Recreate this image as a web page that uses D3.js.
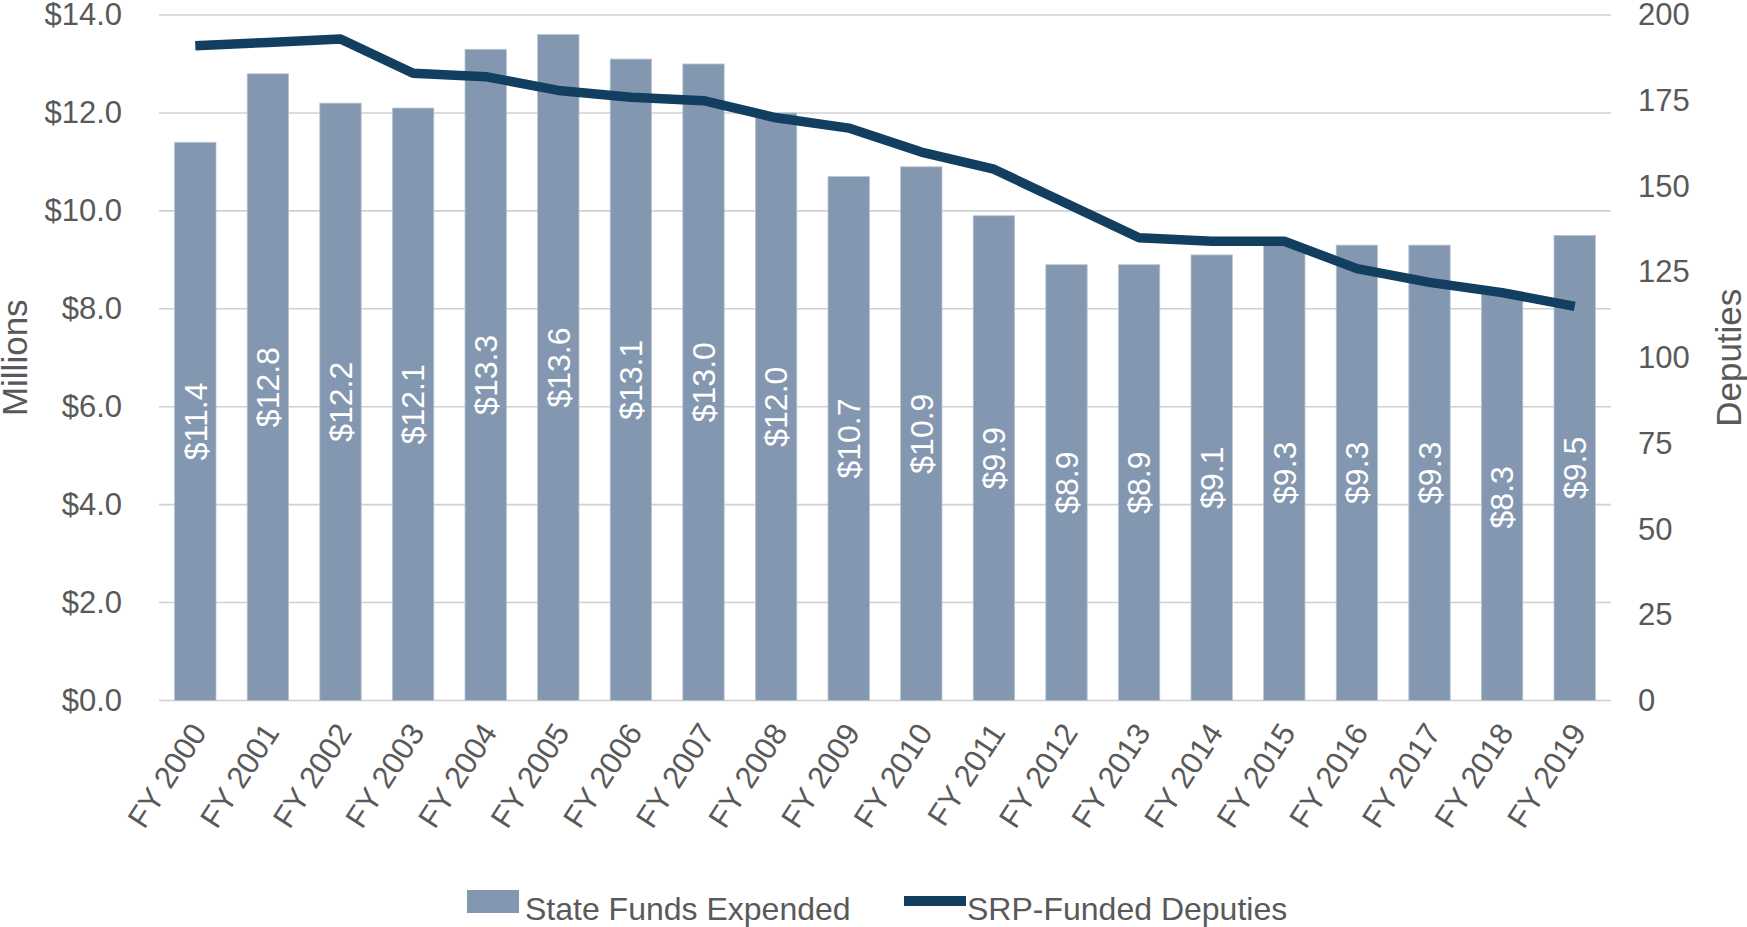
<!DOCTYPE html>
<html>
<head>
<meta charset="utf-8">
<script src="https://cdn.jsdelivr.net/npm/d3@7"></script>
<style>
  html, body { margin: 0; padding: 0; background: #fff; }
  svg { display: block; }
  text { font-family: "Liberation Sans", Arial, sans-serif; }
</style>
</head>
<body>
<svg id="chart" width="1747" height="927"></svg>
<script>
const categories = ["FY 2000","FY 2001","FY 2002","FY 2003","FY 2004","FY 2005","FY 2006","FY 2007","FY 2008","FY 2009",
                    "FY 2010","FY 2011","FY 2012","FY 2013","FY 2014","FY 2015","FY 2016","FY 2017","FY 2018","FY 2019"];
const stateFunds = [11.4, 12.8, 12.2, 12.1, 13.3, 13.6, 13.1, 13.0, 12.0, 10.7, 10.9, 9.9, 8.9, 8.9, 9.1, 9.3, 9.3, 9.3, 8.3, 9.5];
const deputies = [191, 192, 193, 183, 182, 178, 176, 175, 170, 167, 160, 155, 145, 135, 134, 134, 126, 122, 119, 115];
const leftTicks = [0, 2, 4, 6, 8, 10, 12, 14];
const rightTicks = [0, 25, 50, 75, 100, 125, 150, 175, 200];
const seriesNames = ["State Funds Expended", "SRP-Funded Deputies"];

const M = { left: 159, right: 1611, top: 15, bottom: 700.5 };
const barColor = "#8497b0", lineColor = "#123f5f", textColor = "#595959", gridColor = "#d0d0d0";

const svg = d3.select("#chart");

const x = d3.scaleBand().domain(categories).range([M.left, M.right]).paddingInner(0.43).paddingOuter(0.215);
const yL = d3.scaleLinear().domain([0, 14]).range([M.bottom, M.top]);
const yR = d3.scaleLinear().domain([0, 200]).range([M.bottom, M.top]);

// gridlines
svg.append("g").selectAll("line").data(leftTicks).join("line")
  .attr("x1", M.left).attr("x2", M.right)
  .attr("y1", d => yL(d)).attr("y2", d => yL(d))
  .attr("stroke", gridColor).attr("stroke-width", 1.6);

// bars
svg.append("g").selectAll("rect").data(stateFunds).join("rect")
  .attr("x", (d, i) => x(categories[i]))
  .attr("width", x.bandwidth())
  .attr("y", d => yL(d))
  .attr("height", d => yL(0) - yL(d))
  .attr("fill", barColor)
  .attr("stroke", "#b9c4d3").attr("stroke-width", 0.8);

// bar labels
svg.append("g").selectAll("text").data(stateFunds).join("text")
  .attr("transform", (d, i) => `translate(${x(categories[i]) + x.bandwidth() / 2},${(yL(d) + yL(0)) / 2}) rotate(-90)`)
  .attr("text-anchor", "middle").attr("dy", "0.35em")
  .attr("fill", "#fff").style("font-size", "32px")
  .text(d => "$" + d.toFixed(1));

// line
const line = d3.line().x((d, i) => x(categories[i]) + x.bandwidth() / 2).y(d => yR(d));
svg.append("path").datum(deputies)
  .attr("d", line).attr("fill", "none")
  .attr("stroke", lineColor).attr("stroke-width", 9.5)
  .attr("stroke-linejoin", "round");

// left axis
const axL = svg.append("g").attr("transform", `translate(${M.left},0)`)
  .call(d3.axisLeft(yL).tickValues(leftTicks).tickSize(0).tickPadding(37).tickFormat(d => "$" + d.toFixed(1)));
axL.select(".domain").remove();
axL.selectAll("text").attr("fill", textColor).style("font-size", "31px").attr("font-family", null);

// right axis
const axR = svg.append("g").attr("transform", `translate(${M.right},0)`)
  .call(d3.axisRight(yR).tickValues(rightTicks).tickSize(0).tickPadding(27));
axR.select(".domain").remove();
axR.selectAll("text").attr("fill", textColor).style("font-size", "31px").attr("font-family", null);

// bottom axis
const axB = svg.append("g").attr("transform", `translate(0,${M.bottom})`)
  .call(d3.axisBottom(x).tickSize(0));
axB.select(".domain").remove();
axB.selectAll("text")
  .attr("fill", textColor).style("font-size", "31px").attr("font-family", null)
  .attr("text-anchor", "end")
  .attr("transform", "translate(-6,20) rotate(-57)")
  .attr("x", 0).attr("y", 0).attr("dy", "0.71em");

// axis titles
svg.append("text")
  .attr("transform", `translate(27,${(M.top + M.bottom) / 2}) rotate(-90)`)
  .attr("text-anchor", "middle").attr("fill", textColor).style("font-size", "35px")
  .text("Millions");
svg.append("text")
  .attr("transform", `translate(1741,${(M.top + M.bottom) / 2}) rotate(-90)`)
  .attr("text-anchor", "middle").attr("fill", textColor).style("font-size", "35px")
  .text("Deputies");

// legend
const lg = svg.append("g");
lg.append("rect").attr("x", 467).attr("y", 890).attr("width", 52).attr("height", 23).attr("fill", barColor);
lg.append("text").attr("x", 525).attr("y", 920).attr("fill", textColor).style("font-size", "32px").text(seriesNames[0]);
lg.append("line").attr("x1", 904).attr("x2", 966).attr("y1", 901).attr("y2", 901)
  .attr("stroke", lineColor).attr("stroke-width", 10);
lg.append("text").attr("x", 967).attr("y", 920).attr("fill", textColor).style("font-size", "32px").text(seriesNames[1]);
</script>
</body>
</html>
